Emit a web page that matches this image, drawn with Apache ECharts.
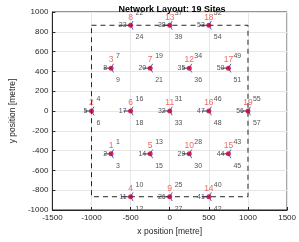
<!DOCTYPE html>
<html>
<head>
<meta charset="utf-8">
<script src="https://cdn.jsdelivr.net/npm/echarts@6/dist/echarts.min.js"></script>
<style>
  * { margin: 0; padding: 0; }
  html, body { background: #fff; }
  #chart { width: 299px; height: 242px; }
</style>
</head>
<body>
<div id="chart"></div>
<script>
  // site positions (metre)
  var siteX = [-750, -1000, -750, -500, -250, -500, -250, -500, 0, 250, 0, 250, 0, 500, 750, 500, 750, 500, 1000]
  var siteY = [-433, 0, 433, -866, -433, 0, 433, 866, -866, -433, 0, 433, 866, -866, -433, 0, 433, 866, 0]
  // sector antenna directions (degrees)
  var sectorAngles = [60, 180, 300]
  // dashed boundary
  var boundX = [-1000, 1000, 1000, -1000, -1000]
  var boundY = [866, 866, -866, -866, 866]
  var xTicks = [-1500, 1500, 500]
  var yTicks = [-1000, 1000, 200]

  var font = 'Liberation Sans, Arial, sans-serif'
  var sites = siteX.map(function (x, i) { return [x, siteY[i], i + 1] })
  var boundary = boundX.map(function (x, i) { return [x, boundY[i]] })
  var plain = function (v) { return String(v) }

  function cellSeries(s, offset, align) {
    return {
      type: 'scatter',
      data: sites,
      symbolSize: 0,
      silent: true,
      z: 4,
      label: {
        show: true,
        position: 'inside',
        offset: offset,
        align: align,
        fontFamily: font,
        fontSize: 7,
        color: '#262626',
        formatter: function (p) { return String(3 * (p.data[2] - 1) + s) },
      },
    }
  }

  var chart = echarts.init(document.getElementById('chart'), null, { renderer: 'canvas' })
  var option = {
    animation: false,
    title: {
      text: 'Network Layout: 19 Sites',
      left: 167,
      textAlign: 'center',
      top: 0,
      textStyle: { fontFamily: font, fontSize: 9, fontWeight: 'bold', color: '#000' },
    },
    grid: {
      left: 43, right: 7, top: 12, bottom: 32,
      show: true, borderColor: '#262626', borderWidth: 1,
    },
    xAxis: {
      type: 'value',
      min: xTicks[0], max: xTicks[1], interval: xTicks[2],
      name: 'x position [metre]',
      nameLocation: 'middle',
      nameGap: 15,
      nameTextStyle: { fontFamily: font, fontSize: 8.5, color: '#262626' },
      axisLine: { show: true, onZero: false, lineStyle: { color: '#262626' } },
      axisTick: { inside: true, length: 3, lineStyle: { color: '#262626' } },
      axisLabel: { fontFamily: font, fontSize: 8, color: '#262626', margin: 4, formatter: plain },
      splitLine: { show: true, lineStyle: { color: '#e6e6e6', width: 1 } },
    },
    yAxis: {
      type: 'value',
      min: yTicks[0], max: yTicks[1], interval: yTicks[2],
      name: 'y position [metre]',
      nameLocation: 'middle',
      nameGap: 32,
      nameRotate: 90,
      nameTextStyle: { fontFamily: font, fontSize: 8.5, color: '#262626' },
      axisLine: { show: true, onZero: false, lineStyle: { color: '#262626' } },
      axisTick: { inside: true, length: 3, lineStyle: { color: '#262626' } },
      axisLabel: { fontFamily: font, fontSize: 8, color: '#262626', margin: 4, formatter: plain },
      splitLine: { show: true, lineStyle: { color: '#e6e6e6', width: 1 } },
    },
    series: [
      {
        type: 'line',
        data: boundary,
        symbol: 'none',
        silent: true,
        z: 2,
        lineStyle: { color: '#262626', width: 1, type: [5, 4] },
      },
      {
        type: 'custom',
        data: sites,
        silent: true,
        z: 3,
        renderItem: function (params, api) {
          var c = api.coord([api.value(0), api.value(1)])
          var children = sectorAngles.map(function (a) {
            var r = a === 180 ? 7 : 5
            var rad = a * Math.PI / 180
            return {
              type: 'line',
              shape: { x1: c[0], y1: c[1], x2: c[0] + r * Math.cos(rad), y2: c[1] - r * Math.sin(rad) },
              style: { stroke: a === 180 ? '#3a3a7a' : '#4a5ad8', lineWidth: 1 },
            }
          })
          return { type: 'group', children: children }
        },
      },
      {
        type: 'scatter',
        data: sites,
        symbol: 'circle',
        symbolSize: 5,
        z: 5,
        itemStyle: { color: '#c4002c' },
        label: {
          show: true,
          position: 'top',
          distance: 1,
          fontFamily: font,
          fontSize: 8.5,
          color: '#e8453c',
          formatter: function (p) { return String(p.data[2]) },
        },
      },
      cellSeries(1, [5, -12], 'left'),
      cellSeries(2, [-4, 0], 'right'),
      cellSeries(3, [5, 12], 'left'),
    ],
  }
  chart.setOption(option)
</script>
</body>
</html>
